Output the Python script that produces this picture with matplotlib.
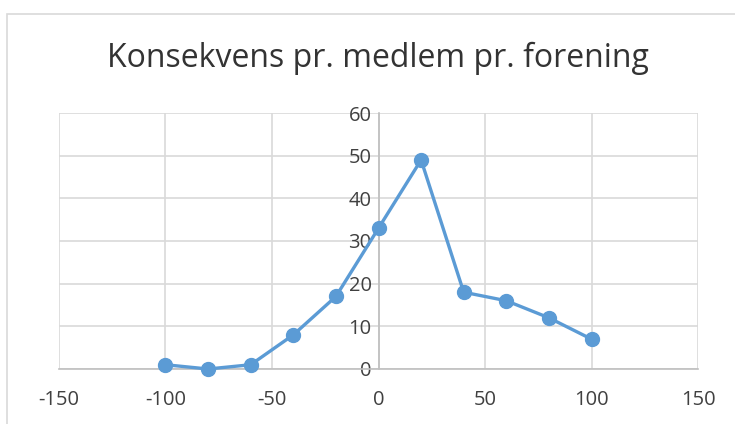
import matplotlib.pyplot as plt
from matplotlib.patches import Rectangle

# Data
x_vals = [-100, -80, -60, -40, -20, 0, 20, 40, 60, 80, 100]
y_vals = [1, 0, 1, 8, 17, 33, 49, 18, 16, 12, 7]
x_ticks = [-150, -100, -50, 0, 50, 100, 150]
y_ticks = [0, 10, 20, 30, 40, 50, 60]
title = 'Konsekvens pr. medlem pr. forening'

plt.rcParams['font.family'] = ['Open Sans', 'DejaVu Sans']
plt.rcParams['axes.unicode_minus'] = False
text_col = '#404040'

fig = plt.figure(figsize=(7.35, 4.24), dpi=100)
# chart border (cropped by the image edge)
fig.patches.append(Rectangle((7 / 735, -0.1), 1.2, 1 - 14 / 424 + 0.1,
                             transform=fig.transFigure, fill=False,
                             edgecolor='#D9D9D9', linewidth=1.2))

ax = fig.add_axes([59 / 735, 1 - 369 / 424, (698 - 59) / 735, (369 - 113) / 424])
ax.plot(x_vals, y_vals, color='#5B9BD5', linewidth=2.4, marker='o',
        markersize=10, zorder=3, clip_on=False)

ax.set_xlim(-150, 150)
ax.set_ylim(0, 60)
ax.set_xticks(x_ticks)
ax.set_yticks(y_ticks)
ax.grid(True, color='#D9D9D9', linewidth=1.2)
ax.set_axisbelow(True)

for s in ['top', 'right']:
    ax.spines[s].set_visible(False)
ax.spines['left'].set_position(('data', 0))
ax.spines['left'].set_color('#BFBFBF')
ax.spines['bottom'].set_color('#BFBFBF')
ax.spines['left'].set_linewidth(1.2)
ax.spines['bottom'].set_linewidth(1.2)
ax.spines['left'].set_zorder(2)

ax.tick_params(axis='both', length=0, labelsize=14.5, labelcolor=text_col)
ax.tick_params(axis='x', pad=15)
ax.tick_params(axis='y', pad=5)

fig.text(378 / 735, 1 - 58 / 424, title, ha='center', va='center',
         fontsize=23, color='#333333')

fig.savefig('out.png', dpi=100)
